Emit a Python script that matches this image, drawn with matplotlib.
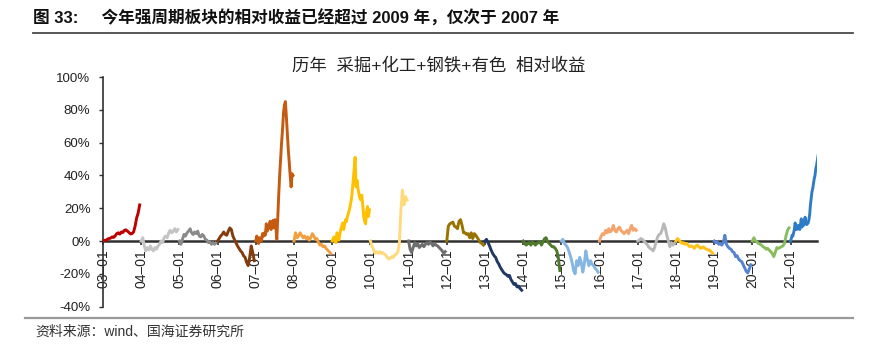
import numpy as np
import matplotlib
matplotlib.use('Agg')
import matplotlib.pyplot as plt
from matplotlib.lines import Line2D

plt.rcParams['font.family'] = ['Liberation Sans', 'Noto Sans CJK SC', 'DejaVu Sans']

# ---------------- data ----------------
years = list(range(2003, 2022))
tick_labels = [f'{y % 100:02d}–01' for y in years]
y_ticks = [-40, -20, 0, 20, 40, 60, 80, 100]

r2003 = [0, 0.5, 0.3, 1.2, 1.5, 1.8, 2.5, 2.2, 3.2, 4.5, 5, 4.2, 5.5, 5.2, 6.5, 6.8, 6, 5.2, 4.3, 4.5, 5.5, 9, 14, 17, 22]
r2004 = [0, 2, -3, -6, -4, -5.5, -3, -5, -6, -4, -5, -3, -2, 0, -1, 2, 3, 2, 5, 6.5, 5, 6, 7.5, 5.5, 7]
r2005 = [0, -2, 1, 4, 3, 5, 6, 7.5, 5, 4, 5.5, 4.5, 6, 3, 2.5, 4, 3, 1, 0.5, -1, -0.5, -2, -1, -2, -1]
r2006 = [0, 1.5, 3, 4, 5.5, 4, 3.5, 6, 8, 7, 3, 1, -1, -3, -4.5, -6, -7, -9, -10, -13, -15, -10, -3, -7, -12]
r2007 = [0, 3, 1, -1.5, 2, 0.5, 0, 4.5, 3, 5, 3.5, 10.5, 6, 8, 9.5, 12, 7, 10, 12.5, 8,
         13, 9, 1, 14, 28, 40, 50, 60, 68, 78, 83, 85, 76, 66, 56, 48, 40, 33, 41, 40]
r2008 = [0, 5, 2, 3, 5, 3.5, 2, 3, 1.5, 2.5, 0.5, 2, 4.5, 3, 1, 1.5, -1, -2.5, -2, -3.5, -3, -4.5, -5.5, -6.5, -7.5]
r2009 = [0, 1.5, 2.5, 0, -1, 5, 3, 0.5, 4, 7, 9, 11, 7, 10, 13, 12, 15, 17, 19, 22,
         25, 30, 37, 44, 51, 33, 37, 32, 29, 26, 25, 28, 22, 15, 12, 10.5, 18, 21, 15, 19]
r2010 = [0, -3, -5, -7.5, -6.5, -7.5, -6.5, -7.5, -7, -8, -8.5, -10, -11, -10.5, -9.5, -10, -8.5, -8, -6.5, -1, 19, 31, 22, 27, 25]
r2011 = [0, -5, -7, -4, -1, -3, -1.5, -4, -3, -2, -3.5, -2, -1, -2, -0.5, -1.5, -3, -1.5, -2.5, -3, -4, -5, -6, -7.5, -6.5]
r2012 = [0, 9, 10.5, 11, 11.5, 9, 8.5, 7.5, 12, 13, 9.5, 5, 5, 4, 4.5, 2, 5, 1.5, 4.5, 3.5, 2, 0.5, -1, -1.5, -2.5]
r2013 = [0, 1, -1, -3, -5.5, -7.5, -9, -10, -12.5, -14, -16, -17.5, -19, -20, -20.5, -21.5, -21, -23.5, -25, -26.5, -26, -28, -27.5, -29, -30]
r2014 = [0, -1.5, -2.5, -1.5, -1, -2.5, -0.5, -1.5, -2.5, -1.5, -1, -0.5, -2.5, -0.5, 1.5, 2, -0.5, -1.5, -2.5, -3.5, -3.5, -4.5, -6, -10, -18]
r2015 = [0, 1, -1.5, -2.5, -4, -6.5, -9.5, -13, -18, -20, -12, -15, -10, -13, -19, -14, -6, -11, -15, -12, -14, -15, -16.5, -17.5, -19]
r2016 = [0, 3, 4.5, 4, 6.5, 5, 7.5, 5.5, 6.5, 9.5, 6.5, 5.5, 7.5, 8.5, 6.5, 5.5, 4.5, 5.5, 6.5, 4.5, 7.5, 9.5, 6.5, 7.5, 6.5]
r2017 = [0, 0.5, 1.5, 1, 0, -1, -2, -3.5, -4.5, -5, -6, -4, -0.5, 2.5, 4, 4.5, 7, 10.5, 8, 3.5, 0, -3.5, -1, -2.5, -1.5]
r2018 = [0, 1.5, 0.5, -0.5, -1.5, -1, -2, -1.5, -2.5, -3.5, -3, -3.5, -4.5, -3, -2.5, -3.5, -4.5, -4, -3.5, -4.5, -5, -5.5, -5.5, -6.5, -7.5]
r2019 = [0, -1, -0.5, -2, -1.5, -2.5, -1, 3.5, -2, -3.5, -4.5, -5, -6.5, -7, -9.5, -9, -11, -12, -12.5, -14.5, -16.5, -18.5, -19.5, -17, -14.5]
r2020 = [0, 2, 0, -0.5, -1.5, -2, -2.5, -3.5, -4, -5, -4.5, -5.5, -6.5, -7.5, -9.5, -7, -4, -4.5, -4, -3.5, -3, -1.5, 3, 6.5, 8]
r2021 = [0, 1.5, 3.5, 3, 5, 7, 11, 8, 7, 8.5, 9.5, 7.5, 7, 10, 13.5, 8.5, 10, 9.5, 12, 14.5,
         11, 10, 10.5, 11, 13, 16, 22, 26, 30, 32, 35, 38, 40, 44, 46, 49, 52]

series = [r2003, r2004, r2005, r2006, r2007, r2008, r2009, r2010, r2011, r2012,
          r2013, r2014, r2015, r2016, r2017, r2018, r2019, r2020, r2021]
# fraction of each calendar year covered by the series
coverage = [0.96, 0.96, 0.96, 0.96, 0.975, 0.96, 0.975, 0.96, 0.96, 0.96,
            0.96, 0.96, 0.96, 0.96, 0.96, 0.96, 0.96, 0.96, 0.72]
colors = ['#C00000', '#C4C4C4', '#8A8A8A', '#843C0C', '#C55A11', '#F0A040', '#FFC000',
          '#FFD97A', '#6E6E6E', '#997300', '#203864', '#4E7A2C', '#85B6E2', '#F4A46C',
          '#B8B8B8', '#FFC21A', '#5583CF', '#88BD5E', '#2F7CC6']

# ---------------- figure ----------------
fig = plt.figure(figsize=(8.74, 3.47), dpi=100)
ax = fig.add_axes([103 / 874, 1 - 306.6 / 347, (817.3 - 103) / 874, (306.6 - 77) / 347])

for i, (vals, cov, col) in enumerate(zip(series, coverage, colors)):
    x = i + np.linspace(0, cov, len(vals))
    ax.plot(x, vals, color=col, lw=2.1, solid_joinstyle='round', zorder=3)

ax.set_xlim(0, 18.7)
ax.set_ylim(-40, 100)

for s in ['top', 'right']:
    ax.spines[s].set_visible(False)
ax.spines['bottom'].set_position(('data', 0))
ax.spines['bottom'].set_linewidth(1.8)
ax.spines['bottom'].set_color('#303030')
ax.spines['bottom'].set_zorder(2)
ax.spines['left'].set_linewidth(1.2)
ax.spines['left'].set_color('#303030')

ax.set_xticks(range(len(years)))
ax.set_xticklabels(tick_labels, rotation=90, fontsize=10, color='#222222')
ax.set_yticks(y_ticks)
ax.set_yticklabels([f'{v}%' for v in y_ticks], fontsize=9.5, color='#222222')
ax.tick_params(axis='x', direction='out', length=3, width=1.2, color='#303030', pad=3)
ax.tick_params(axis='y', direction='out', length=3, width=1.0, color='#303030', pad=6)
for lab in ax.get_xticklabels():
    lab.set_va('top')
    lab.set_ha('center')

# inner chart title
fig.text(439 / 874, 1 - 65 / 347, '历年  采掘+化工+钢铁+有色  相对收益', fontsize=12.5,
         ha='center', va='center', color='#222222')

# heading
fig.text(33 / 874, 1 - 18 / 347, '图 33:     今年强周期板块的相对收益已经超过 2009 年，仅次于 2007 年',
         fontsize=12, fontweight='bold', ha='left', va='center', color='#111111')
fig.add_artist(Line2D([33 / 874, 853 / 874], [1 - 33 / 347] * 2, color='#4a4a4a', lw=1.3))

# bottom rule and source
fig.add_artist(Line2D([25 / 874, 853 / 874], [1 - 317.5 / 347] * 2, color='#9a9a9a', lw=1.6))
fig.text(35 / 874, 1 - 332 / 347, '资料来源：wind、国海证券研究所', fontsize=10,
         ha='left', va='center', color='#333333')

fig.savefig('out.png', dpi=100)
